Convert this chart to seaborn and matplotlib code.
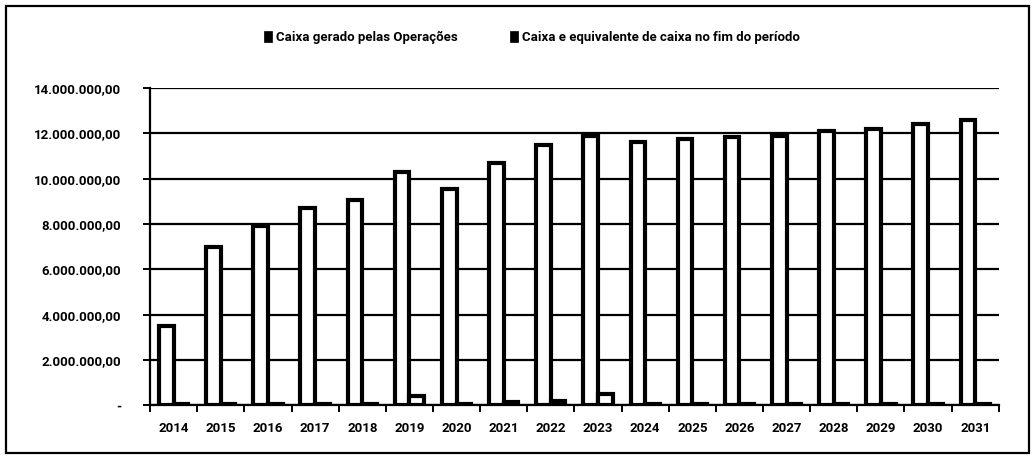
import pandas as pd
import matplotlib
matplotlib.use('Agg')
import matplotlib.pyplot as plt
import matplotlib.ticker as mticker
import seaborn as sns

# Data
anos = [str(a) for a in range(2014, 2032)]
caixa_operacoes = [3.5e6, 7.0e6, 7.9e6, 8.7e6, 9.05e6, 10.3e6, 9.55e6, 10.7e6, 11.5e6,
                   11.9e6, 11.6e6, 11.75e6, 11.85e6, 11.9e6, 12.1e6, 12.2e6, 12.4e6, 12.6e6]
caixa_fim_periodo = [0.05e6, 0.05e6, 0.05e6, 0.05e6, 0.05e6, 0.4e6, 0.05e6, 0.15e6, 0.2e6,
                     0.5e6, 0.05e6, 0.05e6, 0.05e6, 0.05e6, 0.05e6, 0.05e6, 0.05e6, 0.05e6]
series = ['Caixa gerado pelas Operações', 'Caixa e equivalente de caixa no fim do período']
yticks = [0, 2e6, 4e6, 6e6, 8e6, 10e6, 12e6, 14e6]

df = pd.DataFrame({
    'Ano': anos * 2,
    'Valor': caixa_operacoes + caixa_fim_periodo,
    'Serie': [series[0]] * len(anos) + [series[1]] * len(anos),
})

sns.set_theme(style="white")
plt.rcParams['font.family'] = ['Liberation Sans Narrow', 'Roboto', 'DejaVu Sans']
plt.rcParams['font.weight'] = 'bold'
plt.rcParams['text.color'] = 'black'
plt.rcParams['xtick.color'] = 'black'
plt.rcParams['ytick.color'] = 'black'

fig, ax = plt.subplots(figsize=(10.35, 4.58), dpi=100)
fig.subplots_adjust(left=0.145, right=0.965, top=0.808, bottom=0.115)

sns.barplot(data=df, x='Ano', y='Valor', hue='Serie', hue_order=series,
            palette=['white', 'white'], edgecolor='black', linewidth=3.0,
            width=0.62, ax=ax)

ax.set_ylim(0, 14e6)
ax.set_xlim(-0.5, len(anos) - 0.5)
ax.set_yticks(yticks)


def fmt(v, pos):
    if v == 0:
        return '-'
    s = f"{v:,.2f}"
    return s.replace(',', 'X').replace('.', ',').replace('X', '.')


ax.yaxis.set_major_formatter(mticker.FuncFormatter(fmt))
ax.grid(axis='y', color='black', linewidth=1.6)
ax.set_axisbelow(True)
for side in ['top', 'right']:
    ax.spines[side].set_visible(False)
for side in ['left', 'bottom']:
    ax.spines[side].set_color('black')
    ax.spines[side].set_linewidth(1.6)

ax.set_xlabel('')
ax.set_ylabel('')
ax.tick_params(axis='y', labelsize=9.5, length=5, width=1.4, left=True, pad=16)
ax.tick_params(axis='x', labelsize=9.5, length=0, pad=12)
ax.set_xticks([i + 0.5 for i in range(-1, len(anos))], minor=True)
ax.tick_params(axis='x', which='minor', bottom=True, length=5, width=1.4)

leg = ax.legend(loc='lower center', bbox_to_anchor=(0.45, 1.1), ncol=2, frameon=False,
                fontsize=9.5, handlelength=0.6, handleheight=0.9, columnspacing=4.0,
                handletextpad=0.3)
for h in leg.legend_handles:
    h.set_facecolor('black')
    h.set_edgecolor('black')
    h.set_linewidth(0.5)

# outer frame around the whole chart
fig.patches.append(plt.Rectangle((0.006, 0.012), 0.988, 0.975, transform=fig.transFigure,
                                 fill=False, edgecolor='black', linewidth=1.6))

fig.savefig('out.png', dpi=100)
plt.close(fig)
